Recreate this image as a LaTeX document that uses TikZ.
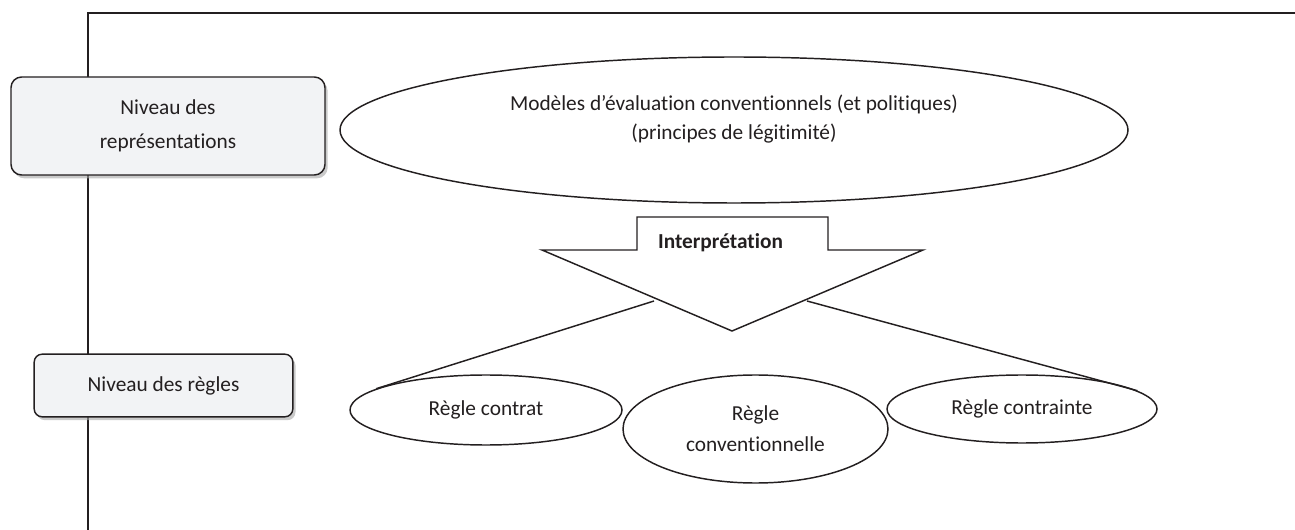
\documentclass[tikz,border=0pt]{standalone}
\usepackage{fontspec}
\setmainfont{Carlito}[Ligatures=NoCommon]
\usetikzlibrary{shapes.geometric,shadows}
\definecolor{boxfill}{HTML}{F2F3F5}
\definecolor{ink}{HTML}{231F20}
\begin{document}
\begin{tikzpicture}[x=0.75pt,y=-0.75pt,
  every node/.style={text=ink},
  level/.style={draw=ink,line width=1.1pt,fill=boxfill,rounded corners=8pt,
     drop shadow={shadow xshift=2pt,shadow yshift=-2.5pt,fill=black!35,opacity=0.6},
     align=center,inner sep=0pt,font=\fontsize{16}{25.5}\selectfont},
  oval/.style={draw=ink,line width=1.1pt,ellipse,inner sep=0pt,align=center,
     font=\fontsize{16}{23.25}\selectfont},
  link/.style={draw=ink,line width=1.1pt}]
\useasboundingbox (0,0) rectangle (1295,530);
% frame
\coordinate (frameTL) at (88,13);
\coordinate (frameTR) at (1295,13);
\coordinate (frameBL) at (88,530);
\draw[ink,line width=1.5pt] (frameTR) -- (frameTL) -- (frameBL);
% level boxes
\node[level,minimum width=235.5pt,minimum height=73.5pt] (rep) at (168,126)
  {Niveau des\\représentations};
\node[level,rounded corners=6pt,minimum width=194pt,minimum height=47pt] (regles) at (163.5,385.5)
  {Niveau des règles};
% big ellipse
\node[oval,minimum width=591pt,minimum height=109.5pt] (model) at (734,130) {};
\node[align=center,inner sep=0pt,font=\fontsize{16}{22}\selectfont] (modeltext) at (734,119)
  {Modèles d’évaluation conventionnels (et politiques)\\(principes de légitimité)};
% block arrow
\draw[link,line join=miter] (637,250) -- (637,217) -- (828,217) -- (828,250) -- (923,250)
  -- (732,331) -- (542,250) -- cycle;
\node[font=\fontsize{16}{18}\selectfont\bfseries,inner sep=0pt] (interp) at (720.5,243) {Interprétation};
\coordinate (arrL) at (654,301);
\coordinate (arrR) at (807,301);
% rule ellipses
\node[oval,minimum width=204pt,minimum height=52.5pt] (contrat) at (486,410) {Règle contrat};
\node[oval,minimum width=198.75pt,minimum height=81pt] (conv) at (755.5,429) {Règle\\conventionnelle};
\node[oval,minimum width=202.5pt,minimum height=51pt] (contrainte) at (1022,409) {Règle contrainte};
% connectors
\draw[link] (arrL) -- (contrat.169);
\draw[link] (arrR) -- (contrainte.9);
\end{tikzpicture}
\end{document}
